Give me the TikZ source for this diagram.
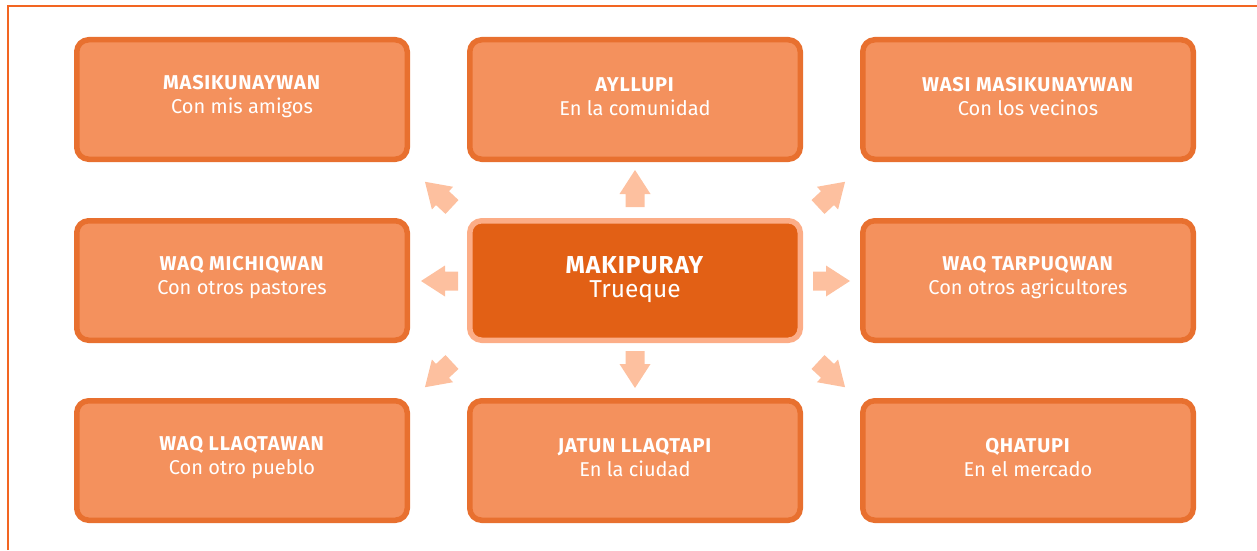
\documentclass[tikz,border=0pt]{standalone}
\usepackage{fontspec}
\setmainfont{Fira Sans}[BoldFeatures={LetterSpace=4}]
\definecolor{boxfill}{HTML}{F4915D}
\definecolor{boxedge}{HTML}{E8702F}
\definecolor{hubfill}{HTML}{E26015}
\definecolor{hubedge}{HTML}{FCAD87}
\definecolor{arrowfill}{HTML}{FDC09F}
\definecolor{frameline}{HTML}{F26522}
\begin{document}
\begin{tikzpicture}[x=1pt,y=1pt,
  box/.style={draw=boxedge, fill=boxfill, line width=5.5pt, rounded corners=12pt,
    minimum width=330.5pt, minimum height=119.5pt, inner sep=0pt},
  hub/.style={draw=hubedge, fill=hubfill, line width=5.5pt, rounded corners=12pt,
    minimum width=330.5pt, minimum height=119.5pt, inner sep=0pt},
  boxtext/.style={text=white, align=center, font=\fontsize{20}{24}\selectfont, yshift=3pt},
  hubtext/.style={text=white, align=center, font=\fontsize{24.5}{24}\selectfont, yshift=1pt},
  frame/.style={draw=frameline, line width=1.5pt},
  blockarrow/.pic={\fill[arrowfill] (0,9.5) -- (13,9.5) -- (13,15.5) -- (37,0)
      -- (13,-15.5) -- (13,-9.5) -- (0,-9.5) -- cycle;}
]
\useasboundingbox (0,0) rectangle (1257,550);
% page frame: top and left rules only
\draw[frame] (8,0) -- (8,544) -- (1257,544);

% central node
\node[hub, label={[hubtext]center:{\textbf{MAKIPURAY}\\Trueque}}] (hub) at (635,269.5) {};

% surrounding nodes
\node[box, label={[boxtext]center:{\textbf{MASIKUNAYWAN}\\Con mis amigos}}] (amigos) at (242,450.5) {};
\node[box, label={[boxtext]center:{\textbf{AYLLUPI}\\En la comunidad}}] (comunidad) at (635,450.5) {};
\node[box, label={[boxtext]center:{\textbf{WASI MASIKUNAYWAN}\\Con los vecinos}}] (vecinos) at (1028,450.5) {};
\node[box, label={[boxtext]center:{\textbf{WAQ MICHIQWAN}\\Con otros pastores}}] (pastores) at (242,269.5) {};
\node[box, label={[boxtext]center:{\textbf{WAQ TARPUQWAN}\\Con otros agricultores}}] (agricultores) at (1028,269.5) {};
\node[box, label={[boxtext]center:{\textbf{WAQ LLAQTAWAN}\\Con otro pueblo}}] (pueblo) at (242,89.5) {};
\node[box, label={[boxtext]center:{\textbf{JATUN LLAQTAPI}\\En la ciudad}}] (ciudad) at (635,89.5) {};
\node[box, label={[boxtext]center:{\textbf{QHATUPI}\\En el mercado}}] (mercado) at (1028,89.5) {};

% block arrows radiating from the centre
\pic[rotate=90]  (toup)    at (635,343) {blockarrow};
\pic[rotate=-90] (todown)  at (635,199) {blockarrow};
\pic[rotate=180] (toleft)  at (458,269) {blockarrow};
\pic[rotate=0]   (toright) at (813,269) {blockarrow};
\pic[rotate=137] (toul)    at (452,343) {blockarrow};
\pic[rotate=43]  (tour)    at (818,343) {blockarrow};
\pic[rotate=223] (toll)    at (452,188) {blockarrow};
\pic[rotate=-43] (tolr)    at (818,188) {blockarrow};
\end{tikzpicture}
\end{document}
